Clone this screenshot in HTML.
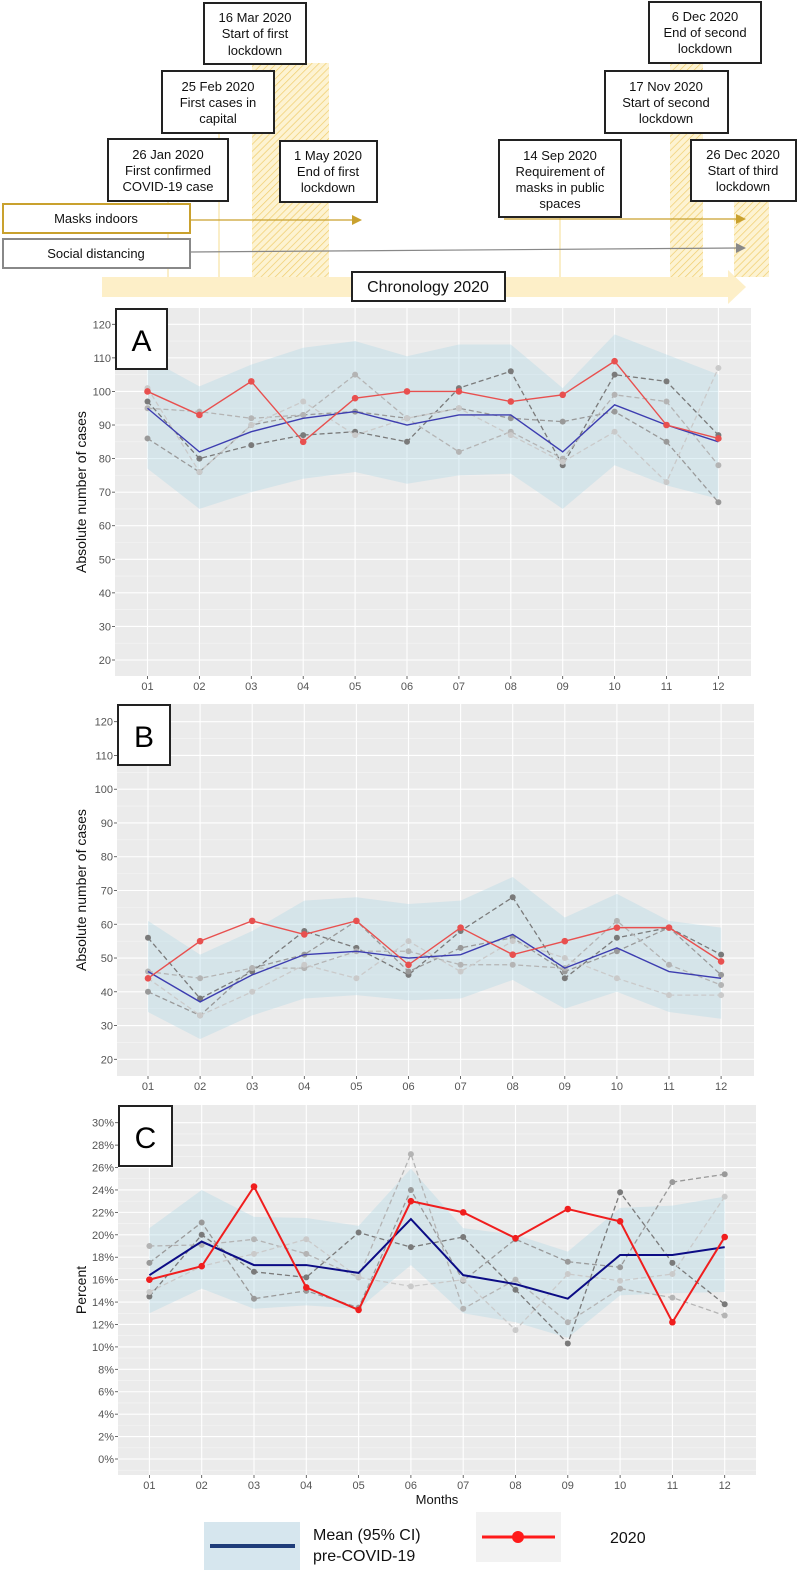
<!DOCTYPE html>
<html><head><meta charset="utf-8">
<style>
body{margin:0;background:#fff;width:798px;height:1573px;overflow:hidden;font-family:"Liberation Sans",sans-serif;}
svg{display:block}
</style></head><body>
<svg id="svg" width="798" height="1573" viewBox="0 0 798 1573" xmlns="http://www.w3.org/2000/svg">
<defs>
<pattern id="hatch" width="5" height="5" patternUnits="userSpaceOnUse" patternTransform="rotate(45)">
<rect width="5" height="5" fill="#fdf3d2"/><line x1="0" y1="0" x2="0" y2="5" stroke="#f0cd6c" stroke-width="1.4"/>
</pattern>
</defs>
<g id="timeline">
<rect x="102" y="277" width="628" height="20" fill="#fdefc8"/>
<polygon points="728,270 746,287 728,304" fill="#fdefc8"/>
<rect x="252" y="63" width="77" height="214" fill="url(#hatch)"/>
<rect x="670" y="63" width="33" height="214" fill="url(#hatch)"/>
<rect x="734" y="201" width="35" height="76" fill="url(#hatch)"/>
<line x1="168" y1="201" x2="168" y2="277" stroke="#f6dc90"/>
<line x1="219" y1="133" x2="219" y2="277" stroke="#f6dc90"/>
<line x1="560" y1="217" x2="560" y2="277" stroke="#f6dc90"/>
<line x1="190" y1="220" x2="354" y2="220" stroke="#c9a12e" stroke-width="1.2"/>
<polygon points="352,215 362,220 352,225" fill="#c9a12e"/>
<line x1="504" y1="219" x2="738" y2="219" stroke="#c9a12e" stroke-width="1.2"/>
<polygon points="736,214 746,219 736,224" fill="#c9a12e"/>
<line x1="190" y1="252" x2="738" y2="248" stroke="#888" stroke-width="1.2"/>
<polygon points="736,243 746,248 736,253" fill="#888"/>
<g font-size="13" text-anchor="middle" fill="#111">
<g><rect x="204" y="3" width="102" height="61" fill="#fff" stroke="#222" stroke-width="2"/><text x="255" y="22">16 Mar 2020</text><text x="255" y="38">Start of first</text><text x="255" y="55">lockdown</text></g>
<g><rect x="162" y="71" width="112" height="62" fill="#fff" stroke="#222" stroke-width="2"/><text x="218" y="91">25 Feb 2020</text><text x="218" y="107">First cases in</text><text x="218" y="123">capital</text></g>
<g><rect x="108" y="139" width="120" height="62" fill="#fff" stroke="#222" stroke-width="2"/><text x="168" y="159">26 Jan 2020</text><text x="168" y="175">First confirmed</text><text x="168" y="191">COVID-19 case</text></g>
<g><rect x="280" y="141" width="97" height="61" fill="#fff" stroke="#222" stroke-width="2"/><text x="328" y="160">1 May 2020</text><text x="328" y="176">End of first</text><text x="328" y="192">lockdown</text></g>
<g><rect x="499" y="140" width="122" height="77" fill="#fff" stroke="#222" stroke-width="2"/><text x="560" y="160">14 Sep 2020</text><text x="560" y="176">Requirement of</text><text x="560" y="192">masks in public</text><text x="560" y="208">spaces</text></g>
<g><rect x="649" y="2" width="112" height="61" fill="#fff" stroke="#222" stroke-width="2"/><text x="705" y="21">6 Dec 2020</text><text x="705" y="37">End of second</text><text x="705" y="53">lockdown</text></g>
<g><rect x="605" y="71" width="123" height="62" fill="#fff" stroke="#222" stroke-width="2"/><text x="666" y="91">17 Nov 2020</text><text x="666" y="107">Start of second</text><text x="666" y="123">lockdown</text></g>
<g><rect x="691" y="140" width="105" height="61" fill="#fff" stroke="#222" stroke-width="2"/><text x="743" y="159">26 Dec 2020</text><text x="743" y="175">Start of third</text><text x="743" y="191">lockdown</text></g>
<g><rect x="3" y="204" width="187" height="29" fill="#fff" stroke="#c9a12e" stroke-width="2"/><text x="96" y="223">Masks indoors</text></g>
<g><rect x="3" y="239" width="187" height="29" fill="#fff" stroke="#888" stroke-width="2"/><text x="96" y="258">Social distancing</text></g>
<g><rect x="352" y="272" width="153" height="29" fill="#fff" stroke="#222" stroke-width="2"/><text x="428" y="292" font-size="16">Chronology 2020</text></g>
</g>
</g>
<g id="charts"></g>
<g>
<rect x="204" y="1522" width="96" height="48" fill="#d6e6ee"/>
<line x1="210" y1="1546" x2="295" y2="1546" stroke="#1f3d7a" stroke-width="4"/>
<text x="313" y="1540" font-size="16" fill="#111">Mean (95% CI)</text>
<text x="313" y="1561" font-size="16" fill="#111">pre-COVID-19</text>
<rect x="476" y="1512" width="85" height="50" fill="#f2f2f2"/>
<line x1="482" y1="1537" x2="555" y2="1537" stroke="#ff1a1a" stroke-width="3"/>
<circle cx="518" cy="1537" r="6" fill="#ff1a1a"/>
<text x="610" y="1543" font-size="16" fill="#111">2020</text>
</g>
</svg>
<script>
const months = ["01","02","03","04","05","06","07","08","09","10","11","12"];
// Panel A
const aRed = [100,93,103,85,98,100,100,97,99,109,90,86];
const aMean = [95,82,88,92,94,90,93,93,82,96,90,85];
const aUpper = [110,101.5,108,113,115,110.5,114,114,101,117,111,105];
const aLower = [77,65,70,74,76,72.5,75,75.5,65,78,72,68];
const aG1 = [97,80,84,87,88,85,101,106,78,105,103,87];
const aG2 = [86,76,90,93,94,92,95,92,91,94,85,67];
const aG3 = [95,94,92,93,105,92,82,88,80,99,97,78];
const aG4 = [101,76,90,97,87,92,95,87,79,88,73,107];
// Panel B
const bRed = [44,55,61,57,61,48,59,51,55,59,59,49];
const bMean = [46,37,45,51,52,50,51,57,47,53,46,44];
const bUpper = [61,51,58,67,68,66,67,74,62,69,61,59];
const bLower = [34,26,33,38,39,37.5,38,43.5,35,40,34,32];
const bG1 = [56,38,46,58,53,45,58,68,44,56,59,51];
const bG2 = [40,33,47,51,61,46,53,56,46,52,59,45];
const bG3 = [46,44,47,47,52,52,48,48,47,61,48,42];
const bG4 = [44,33,40,48,44,55,46,55,50,44,39,39];
// Panel C
const cRed = [16.0,17.2,24.3,15.3,13.3,23.0,22.0,19.7,22.3,21.2,12.2,19.8];
const cMean = [16.4,19.4,17.3,17.3,16.6,21.4,16.4,15.6,14.3,18.2,18.2,18.9];
const cUpper = [20.6,24.0,21.6,21.5,20.8,25.9,20.6,20.0,18.5,22.4,22.6,23.4];
const cLower = [13.0,15.2,13.4,13.7,13.4,17.3,13.0,12.2,10.8,14.6,14.8,14.9];
const cG1 = [14.5,20.0,16.7,16.2,20.2,18.9,19.8,15.1,10.3,23.8,17.5,13.8];
const cG2 = [17.5,21.1,14.3,15.0,13.5,24.0,15.9,19.6,17.6,17.1,24.7,25.4];
const cG3 = [19.0,19.1,19.6,18.3,16.2,27.2,13.4,16.0,12.2,15.2,14.4,12.8];
const cG4 = [14.9,17.2,18.3,19.6,16.2,15.4,16.0,11.5,16.5,15.9,16.5,23.4];
const absTicks = [20,30,40,50,60,70,80,90,100,110,120];
const pctTicks = [0,2,4,6,8,10,12,14,16,18,20,22,24,26,28,30];

const NS="http://www.w3.org/2000/svg";
const root=document.getElementById('charts');
function mk(tag,attrs,parent){const e=document.createElementNS(NS,tag);for(const k in attrs)e.setAttribute(k,attrs[k]);(parent||root).appendChild(e);return e;}

function panel(cfg){
  const g=mk('g',{});
  
  
  const x=i=>cfg.x0+i*cfg.dx;
  const y=v=>cfg.yA+(v-cfg.vA)*(cfg.yB-cfg.yA)/(cfg.vB-cfg.vA);
  const bg=mk('rect',{x:cfg.left,y:cfg.top,width:cfg.right-cfg.left,height:cfg.bottom-cfg.top,fill:'#ebebeb'},g);
  
  
  const step=cfg.ticks[1]-cfg.ticks[0];
  cfg.ticks.forEach((t,i)=>{
    if(i<cfg.ticks.length-1){const ym=y(t+step/2);mk('line',{x1:cfg.left,x2:cfg.right,y1:ym,y2:ym,stroke:'#f6f6f6','stroke-width':0.6},g);}
  });
  const ymin=y(cfg.ticks[0]-step/2); if(ymin<cfg.bottom) mk('line',{x1:cfg.left,x2:cfg.right,y1:ymin,y2:ymin,stroke:'#f6f6f6','stroke-width':0.6},g);
  cfg.ticks.forEach(t=>{
    const yy=y(t);
    mk('line',{x1:cfg.left,x2:cfg.right,y1:yy,y2:yy,stroke:'#fff','stroke-width':1.1},g);
    mk('line',{x1:cfg.left-3,x2:cfg.left,y1:yy,y2:yy,stroke:'#444','stroke-width':0.8},g);
    const tx=mk('text',{x:cfg.left-4,y:yy+4,'font-size':11,'text-anchor':'end',fill:'#555'},g);
    tx.textContent=t+(cfg.pct?'%':'');
    
    
  });
  months.forEach((m,i)=>{
    const xx=x(i);
    mk('line',{x1:xx,x2:xx,y1:cfg.top,y2:cfg.bottom,stroke:'#fff','stroke-width':1.1},g);
    mk('line',{x1:xx,x2:xx,y1:cfg.bottom,y2:cfg.bottom+3,stroke:'#444','stroke-width':0.8},g);
    const tx=mk('text',{x:xx,y:cfg.bottom+14,'font-size':11,'text-anchor':'middle',fill:'#555'},g);
    tx.textContent=m;
    
    
  });
  let d='';cfg.upper.forEach((v,i)=>{d+=(i?'L':'M')+x(i)+','+y(v);});
  for(let i=cfg.lower.length-1;i>=0;i--)d+='L'+x(i)+','+y(cfg.lower[i]);
  const band=mk('path',{d:d+'Z',fill:'rgb(173,216,230)','fill-opacity':0.35},g);
  
  
  const gcols=['#7a7a7a','#999','#b4b4b4','#cacaca'];
  cfg.grays.forEach((s,k)=>{
    const p=mk('polyline',{points:s.map((v,i)=>x(i)+','+y(v)).join(' '),fill:'none',stroke:gcols[k],'stroke-width':1.3,'stroke-dasharray':'5,3'},g);
    
    
    s.forEach((v,i)=>{
      const c=mk('circle',{cx:x(i),cy:y(v),r:3,fill:gcols[k]},g);
      
      
    });
  });
  const ml=mk('polyline',{points:cfg.mean.map((v,i)=>x(i)+','+y(v)).join(' '),fill:'none',stroke:cfg.blue,'stroke-width':cfg.bw},g);
  
  
  const rl=mk('polyline',{points:cfg.red.map((v,i)=>x(i)+','+y(v)).join(' '),fill:'none',stroke:cfg.redc,'stroke-width':cfg.bw},g);
  
  
  cfg.red.forEach((v,i)=>{
    const c=mk('circle',{cx:x(i),cy:y(v),r:3.3,fill:cfg.redc},g);
    
    
  });
  const lb=mk('g',{},g);
  
  
  mk('rect',{x:cfg.left+1,y:cfg.top+1,width:cfg.boxW,height:60,fill:'#fff',stroke:'#222','stroke-width':2},lb);
  const lt=mk('text',{x:cfg.left+1+cfg.boxW/2,y:cfg.top+43,'font-size':30,'text-anchor':'middle',fill:'#000'},lb);
  lt.textContent=cfg.letter;
  const yt=mk('text',{x:0,y:0,'font-size':14,'text-anchor':'middle',fill:'#111',transform:'translate(86,'+((cfg.top+cfg.bottom)/2)+') rotate(-90)'},g);
  yt.textContent=cfg.ytitle;
  
  
}
panel({name:'panel-a',letter:'A',left:115,right:751,top:308,bottom:676,x0:147.5,dx:51.9,yA:660,vA:20,yB:324.3,vB:120,ticks:absTicks,
  red:aRed,mean:aMean,upper:aUpper,lower:aLower,grays:[aG1,aG2,aG3,aG4],blue:'#3d3db0',redc:'#e8504f',bw:1.4,boxW:51,ytitle:'Absolute number of cases'});
panel({name:'panel-b',letter:'B',left:117,right:754,top:704,bottom:1076,x0:148,dx:52.1,yA:1059.3,vA:20,yB:721.7,vB:120,ticks:absTicks,
  red:bRed,mean:bMean,upper:bUpper,lower:bLower,grays:[bG1,bG2,bG3,bG4],blue:'#3d3db0',redc:'#e8504f',bw:1.4,boxW:52,ytitle:'Absolute number of cases'});
panel({name:'panel-c',letter:'C',left:118,right:756,top:1105,bottom:1475,x0:149.4,dx:52.3,yA:1459,vA:0,yB:1122.7,vB:30,ticks:pctTicks,pct:true,
  red:cRed,mean:cMean,upper:cUpper,lower:cLower,grays:[cG1,cG2,cG3,cG4],blue:'#0c0c85',redc:'#f01e1e',bw:2,boxW:53,ytitle:'Percent'});
const xt=mk('text',{x:437,y:1504,'font-size':13,'text-anchor':'middle',fill:'#111'});
xt.textContent='Months';


</script>
</body></html>
